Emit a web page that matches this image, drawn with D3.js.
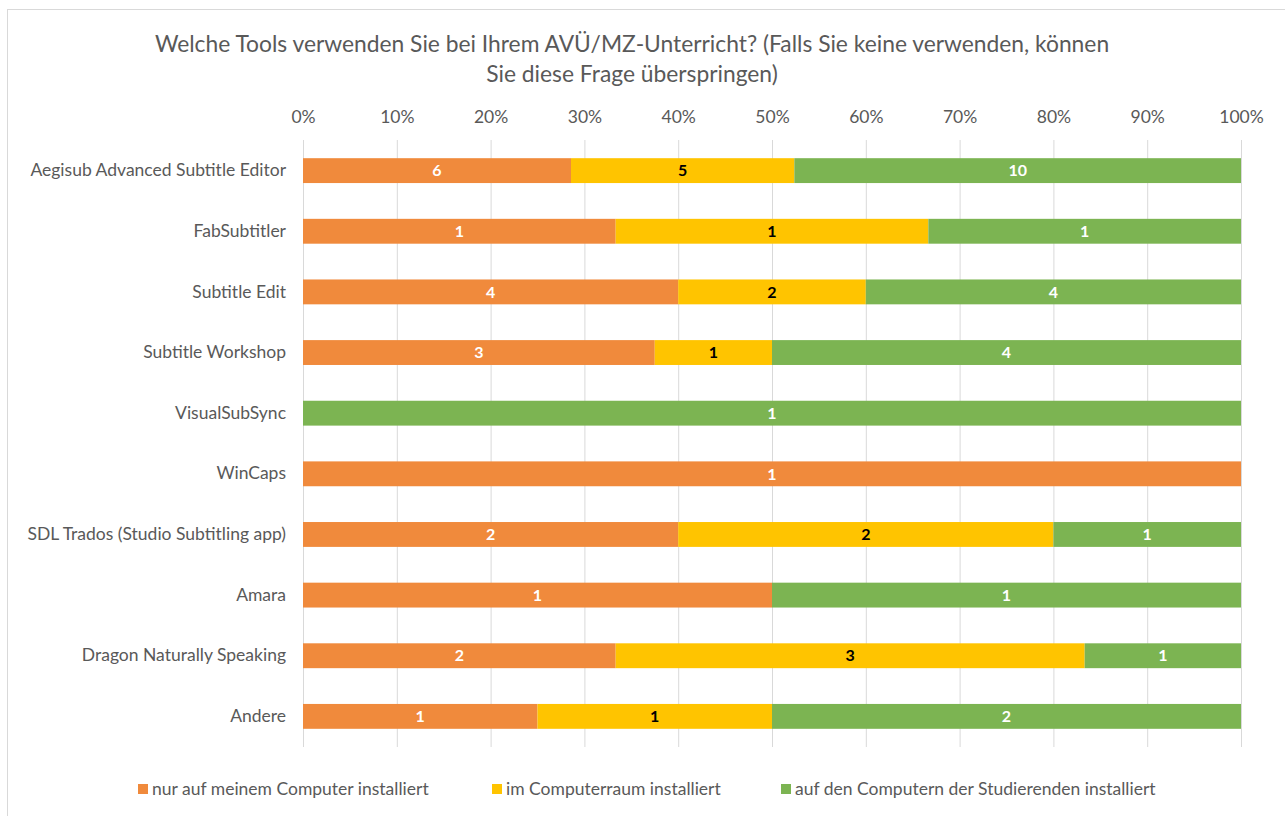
<!DOCTYPE html>
<html>
<head>
<meta charset="utf-8">
<script src="https://cdn.jsdelivr.net/npm/d3@7"></script>
<style>
  body { margin: 0; background: #fff; }
  svg text { font-family: Lato, "Open Sans", sans-serif; }
</style>
</head>
<body>
<svg id="chart" width="1285" height="816"></svg>
<script>
const categories = [
  'Aegisub Advanced Subtitle Editor',
  'FabSubtitler',
  'Subtitle Edit',
  'Subtitle Workshop',
  'VisualSubSync',
  'WinCaps',
  'SDL Trados (Studio Subtitling app)',
  'Amara',
  'Dragon Naturally Speaking',
  'Andere',
]
const seriesNames = [
  'nur auf meinem Computer installiert',
  'im Computerraum installiert',
  'auf den Computern der Studierenden installiert',
]
const onlyMine = [6, 1, 4, 3, 0, 1, 2, 1, 2, 1]
const computerRoom = [5, 1, 2, 1, 0, 0, 2, 0, 3, 1]
const students = [10, 1, 4, 4, 1, 0, 1, 1, 1, 2]
const ticks = [0, 0.1, 0.2, 0.3, 0.4, 0.5, 0.6, 0.7, 0.8, 0.9, 1]
const colors = ['#F08A3C', '#FFC400', '#7CB452']
const labelColors = ['#fff', '#000', '#fff']

const svg = d3.select('#chart')

svg.append('rect')
  .attr('x', 7.5).attr('y', 9.5)
  .attr('width', 1290).attr('height', 820)
  .attr('fill', '#fff').attr('stroke', '#d9d9d9')

const title = svg.append('text')
  .attr('text-anchor', 'middle')
  .attr('fill', '#595959').style('font-size', '22.8px')
title.append('tspan').attr('x', 632).attr('y', 52)
  .text('Welche Tools verwenden Sie bei Ihrem AVÜ/MZ-Unterricht? (Falls Sie keine verwenden, können')
title.append('tspan').attr('x', 632).attr('y', 82)
  .text('Sie diese Frage überspringen)')

const rows = categories.map((c, i) => ({
  category: c,
  s0: onlyMine[i],
  s1: computerRoom[i],
  s2: students[i],
}))

const stacked = d3.stack()
  .keys(['s0', 's1', 's2'])
  .offset(d3.stackOffsetExpand)(rows)

const x = d3.scaleLinear().domain([0, 1]).range([303, 1241])
const y = d3.scaleBand().domain(categories).range([140, 747]).paddingInner(0.59).paddingOuter(0.3)

// gridlines
svg.append('g')
  .selectAll('line')
  .data(ticks)
  .join('line')
  .attr('x1', (d) => x(d) + 0.5).attr('x2', (d) => x(d) + 0.5)
  .attr('y1', 140).attr('y2', 747)
  .attr('stroke', '#d9d9d9')

// top axis labels
const xAxis = d3.axisTop(x).tickValues(ticks).tickFormat(d3.format('.0%')).tickSize(0).tickPadding(0)
svg.append('g')
  .attr('transform', 'translate(0,123)')
  .call(xAxis)
  .call((g) => g.select('.domain').remove())
  .selectAll('text')
  .attr('fill', '#595959')
  .style('font-size', '17.5px')
  .style('font-family', 'Lato, "Open Sans", sans-serif')

// category axis
const yAxis = d3.axisLeft(y).tickSize(0).tickPadding(0)
svg.append('g')
  .attr('transform', 'translate(286,0)')
  .call(yAxis)
  .call((g) => g.select('.domain').remove())
  .selectAll('text')
  .attr('fill', '#595959')
  .style('font-size', '17.5px')
  .style('font-family', 'Lato, "Open Sans", sans-serif')

// bars
const layers = svg.append('g')
  .selectAll('g')
  .data(stacked)
  .join('g')
  .attr('fill', (d, i) => colors[i])

layers.selectAll('rect')
  .data((d) => d.filter((p) => p[1] > p[0]))
  .join('rect')
  .attr('x', (d) => x(d[0]))
  .attr('width', (d) => x(d[1]) - x(d[0]))
  .attr('y', (d) => y(d.data.category))
  .attr('height', y.bandwidth())

// value labels
stacked.forEach((layer, i) => {
  svg.append('g')
    .selectAll('text')
    .data(layer.filter((p) => p[1] > p[0]))
    .join('text')
    .attr('x', (d) => (x(d[0]) + x(d[1])) / 2)
    .attr('y', (d) => y(d.data.category) + y.bandwidth() / 2)
    .attr('dy', '0.36em')
    .attr('text-anchor', 'middle')
    .attr('fill', labelColors[i])
    .style('font-size', '16px')
    .style('font-weight', 'bold')
    .text((d) => d.data[layer.key])
})

// legend
const legendX = [138, 492, 781]
const legend = svg.append('g')
  .selectAll('g')
  .data(seriesNames)
  .join('g')
  .attr('transform', (d, i) => `translate(${legendX[i]},789)`)
legend.append('rect')
  .attr('x', 0).attr('y', -5)
  .attr('width', 10).attr('height', 10)
  .attr('fill', (d, i) => colors[i])
legend.append('text')
  .attr('x', 14).attr('dy', '0.35em')
  .attr('fill', '#595959')
  .style('font-size', '17.5px')
  .text((d) => d)
</script>
</body>
</html>
